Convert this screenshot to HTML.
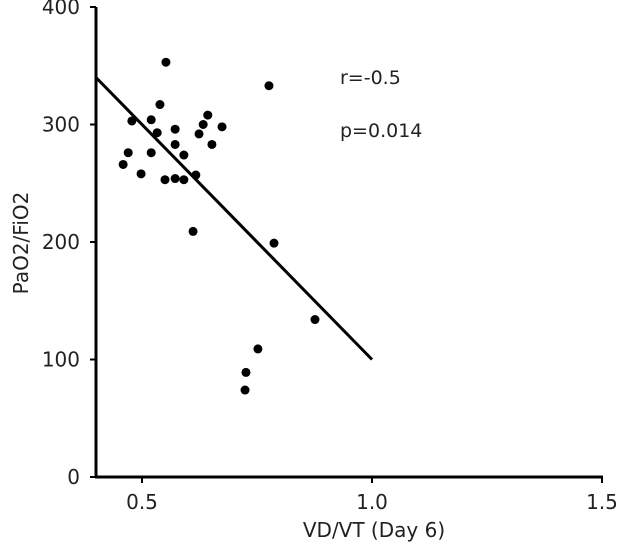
<!DOCTYPE html>
<html><head><meta charset="utf-8"><style>
body{margin:0;background:#fff}
svg text{font-family:"DejaVu Sans","Liberation Sans",sans-serif;fill:#222}
</style></head><body>
<svg width="630" height="553" id="c"></svg>
<script>
const xVals=[0.552,0.776,0.539,0.478,0.520,0.533,0.572,0.633,0.643,0.674,0.624,0.652,0.470,0.520,0.572,0.591,0.459,0.498,0.550,0.572,0.591,0.617,0.611,0.787,0.876,0.752,0.726,0.724];
const yVals=[353,333,317,303,304,293,296,300,308,298,292,283,276,276,283,274,266,258,253,254,253,257,209,199,134,109,89,74];
const xTicks=[0.5,1.0,1.5];
const xTickLabels=["0.5","1.0","1.5"];
const yTicks=[0,100,200,300,400];
const fitLine=[[0.4,340],[1.0,100]];
const X=v=>96+(v-0.4)*460, Y=v=>477-v*1.175;
const s=document.getElementById('c'),ns='http://www.w3.org/2000/svg';
function mk(t,a,txt){const e=document.createElementNS(ns,t);for(const k in a)e.setAttribute(k,a[k]);if(txt!=null)e.textContent=txt;s.appendChild(e);return e;}
let e;
e=mk('line',{x1:96,y1:Y(400),x2:96,y2:478,stroke:'#000','stroke-width':3});


e=mk('line',{x1:95,y1:477,x2:X(1.5)+1,y2:477,stroke:'#000','stroke-width':3});


yTicks.forEach(v=>{
 e=mk('line',{x1:90,y1:Y(v),x2:96,y2:Y(v),stroke:'#000','stroke-width':2});
 
 
 e=mk('text',{x:80,y:Y(v)+7,'text-anchor':'end','font-size':20},String(v));
 
 
});
xTicks.forEach((v,i)=>{
 e=mk('line',{x1:X(v),y1:477,x2:X(v),y2:483,stroke:'#000','stroke-width':2});
 
 
 e=mk('text',{x:X(v),y:509,'text-anchor':'middle','font-size':20},xTickLabels[i]);
 
 
});
e=mk('line',{x1:X(fitLine[0][0]),y1:Y(fitLine[0][1]),x2:X(fitLine[1][0]),y2:Y(fitLine[1][1]),stroke:'#000','stroke-width':3});


xVals.forEach((v,i)=>{
 e=mk('circle',{cx:X(v),cy:Y(yVals[i]),r:4.5,fill:'#000'});
 
 
});
e=mk('text',{x:340,y:84,'font-size':19},'r=-0.5');


e=mk('text',{x:340,y:137,'font-size':19},'p=0.014');


e=mk('text',{x:374,y:537,'text-anchor':'middle','font-size':20},'VD/VT (Day 6)');


e=mk('text',{x:0,y:0,'text-anchor':'middle','font-size':20,transform:'translate(28,243) rotate(-90)'},'PaO2/FiO2');


</script>
</body></html>
